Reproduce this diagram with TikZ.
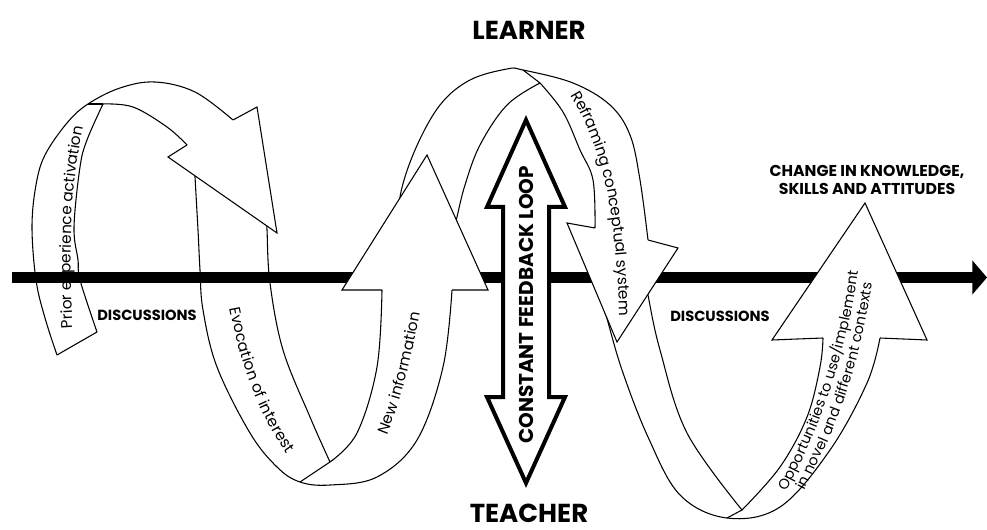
\documentclass[tikz,border=0pt]{standalone}
\usepackage{fontspec}
\setmainfont{Poppins}
\usetikzlibrary{decorations.text, arrows.meta}
\newcommand{\ribbonfont}{\fontsize{11.5}{13}\selectfont}
\newcommand{\oppfont}{\fontsize{10.8}{12}\selectfont}

\begin{document}
\begin{tikzpicture}[x=0.75pt, y=-0.75pt]
\tikzstyle{ribbon} = [fill=white, draw=black, line width=0.8pt, line join=round]
\tikzstyle{fold} = [draw=black, line width=0.8pt]
\tikzstyle{headshape} = [fill=white, draw=black, line width=0.8pt, line join=miter]
\tikzstyle{feedback} = [fill=white, draw=black, line width=3pt, line join=miter]
\tikzstyle{timeline} = [line width=8.25pt, -{Triangle[length=11pt, width=25pt]}]
\tikzstyle{bigtitle} = [font=\fontsize{19.5}{21}\selectfont\bfseries, inner sep=0pt]
\tikzstyle{smalltitle} = [font=\fontsize{11}{13.5}\selectfont\bfseries, align=center]
\tikzstyle{ribbontext} = [decorate, decoration={text along path, text align=center, raise=-3.5pt}]

\useasboundingbox (0,0) rectangle (987,530);

\path[ribbon] plot[smooth, tension=0.6] coordinates {(402,230) (400,197) (415,150) (440,105) (470,80) (507,69) (523,70) (573,83) (610,105) (630,135) (640,180) (648,240)}
 -- (620,290)
 -- plot[smooth, tension=0.6] coordinates {(595,228) (593,180) (580,150) (563,112) (540,83)}
 -- plot[smooth, tension=0.6] coordinates {(540,83) (507,105) (480,145) (465,185) (457,217) (452,240)} -- cycle;
\draw[fold] (523,70) -- (540,83);

\path[ribbon] plot[smooth, tension=0.6] coordinates {(600,295) (606,315) (622,370) (648,437) (680,495) (727,518) (780,507) (830,450) (867,383) (880,338)}
 -- (852,300)
 -- plot[smooth, tension=0.6] coordinates {(823,338) (820,367) (807,417) (780,467) (742,510)}
 -- plot[smooth, tension=0.6] coordinates {(742,510) (687,433) (660,350) (648,295) (645,275)} -- cycle;
\draw[fold] (727,518) -- (742,510);

\path[ribbon] plot[smooth, tension=0.6] coordinates {(194,160) (195,177) (198,230) (200,270) (203,310) (217,367) (250,433) (277,467) (300,482) (330,485) (377,477) (417,440) (443,367) (452,290)}
 -- (417,250)
 -- plot[smooth, tension=0.6] coordinates {(382,290) (377,367) (357,433) (330,462)}
 -- plot[smooth, tension=0.6] coordinates {(330,462) (310,417) (283,350) (270,283) (267,230) (266,205)} -- cycle;
\draw[fold] (300,482) -- (330,462);

\path[ribbon] plot[smooth, tension=0.6] coordinates {(57,355) (45,318) (36,280) (32,227) (36,185) (45,155) (67,123) (88,104) (120,88) (155,82) (195,92) (233,120)}
 -- (234,166)
 -- plot[smooth, tension=0.6] coordinates {(187,145) (167,127) (133,107) (103,104)}
 -- plot[smooth, tension=0.6] coordinates {(103,104) (87,140) (80,167) (74,227) (78,260) (80,280) (97,332)} -- cycle;
\draw[fold] (88,104) -- (103,104);

\coordinate (barstart) at (12,277.5);
\coordinate (barend) at (987,277.5);
\draw[timeline] (barstart) -- (barend);

\path[headshape] (187,145) -- (168,157) -- (277,233) -- (257,107) -- (233,120);
\path[headshape] (382,290) -- (342,290) -- (427,155) -- (488,290) -- (452,290);
\path[headshape] (595,228) -- (567,223) -- (617,342) -- (678,248) -- (648,240);
\path[headshape] (823,338) -- (772,340) -- (865,203) -- (927,340) -- (880,338);

\draw[feedback] (526,120) -- (565,207) -- (549,207) -- (549,397) -- (565,397) -- (526,483) -- (487,397) -- (503,397) -- (503,207) -- (487,207) -- cycle;

\node[bigtitle] (learner) at (529,30) {LEARNER};
\node[bigtitle] (teacher) at (529,513) {TEACHER};
\node[font=\fontsize{15}{16}\selectfont\bfseries, rotate=90] (loopname) at (526,305) {CONSTANT FEEDBACK LOOP};
\node[smalltitle] (discleft) at (147,315) {DISCUSSIONS};
\node[smalltitle] (discright) at (720,316) {DISCUSSIONS};
\node[smalltitle, font=\fontsize{11.8}{13.5}\selectfont\bfseries] (change) at (867,180) {CHANGE IN KNOWLEDGE,\\SKILLS AND ATTITUDES};

\path[ribbontext, decoration={text={|\ribbonfont|Prior experience activation}}] (70,350) .. controls (64,280) and (62,190) .. (84,105);
\path[ribbontext, decoration={text={|\ribbonfont|Evocation of interest}}] (232,295) .. controls (242,355) and (262,415) .. (298,462);
\path[ribbontext, decoration={text={|\ribbonfont|New information}}] (378,445) .. controls (395,405) and (405,370) .. (418,300);
\path[ribbontext, decoration={text={|\ribbonfont|Reframing conceptual system}}] (570,85) .. controls (605,140) and (622,200) .. (624,325);
\path[ribbontext, decoration={text={|\oppfont|Opportunities to use/implement}}] (772,508) .. controls (810,438) and (843,368) .. (856,250);
\path[ribbontext, decoration={text={|\oppfont|in novel and different contexts}}] (787,513) .. controls (825,443) and (858,373) .. (871,255);
\end{tikzpicture}
\end{document}
